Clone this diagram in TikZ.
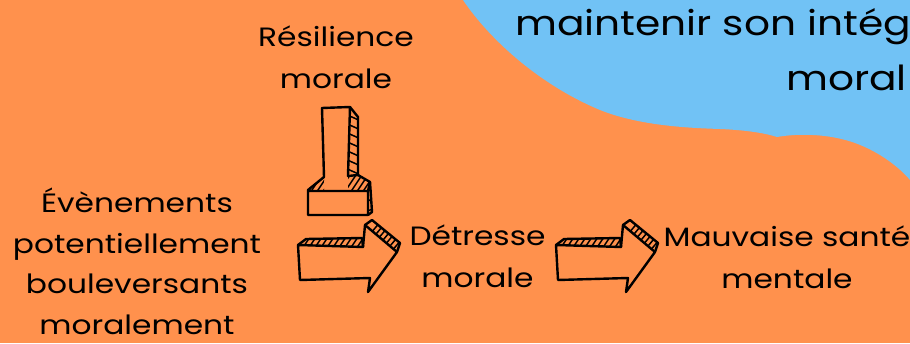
\documentclass[tikz,border=0pt]{standalone}
\usepackage{fontspec}
\setmainfont{Poppins}[FakeStretch=1.18]
\definecolor{bgorange}{RGB}{255,145,77}
\definecolor{blobblue}{RGB}{113,194,245}
\begin{document}
\begin{tikzpicture}[x=1pt,y=-1pt,
  outline/.style={draw=black, line width=2.4pt, line join=round, line cap=round},
  hatchline/.style={draw=black, line width=1.5pt, line cap=round},
  lbl/.style={font=\fontsize{26.5}{42}\selectfont, align=center, anchor=base, inner sep=0pt, text=black},
  ttl/.style={font=\fontsize{34.5}{55}\selectfont, anchor=base west, inner sep=0pt, text=black}]
\useasboundingbox (0,0) rectangle (910,343);
\clip (0,0) rectangle (910,343);
\fill[bgorange] (0,0) rectangle (910,343);
% blue blob
\fill[blobblue] (463,0) .. controls (490,40) and (540,85) .. (600,110)
  .. controls (640,126) and (690,128) .. (720,129)
  .. controls (745,130) and (765,133) .. (777,137)
  .. controls (800,133) and (830,134) .. (855,143)
  .. controls (880,152) and (900,168) .. (910,180) -- (910,0) -- cycle;

% texts (base anchor = baseline of the last line)
\node[ttl] (titleA) at (515,35) {maintenir son intég};
\node[ttl] (titleB) at (786,90) {moral};
\node[lbl] (resil) at (336,88) {Résilience\\morale};
\node[lbl, font=\fontsize{26.5}{40.5}\selectfont] (events) at (137,334) {Évènements\\potentiellement\\bouleversants\\moralement};
\node[lbl] (detresse) at (477.5,287) {Détresse\\morale};
\node[lbl] (sante) at (787,288) {Mauvaise santé\\mentale};

% vertical (downward) block arrow
\begin{scope}
  \clip (350,107)--(358,117)--(358,175)--(348,176)--cycle;
  \foreach \y in {95,104,...,185} \draw[hatchline] (343,\y)--(363,\y+9);
\end{scope}
\begin{scope}
  \clip (308,191)--(324,177)--(324,191)--cycle;
  \foreach \a in {296,302,...,336} \draw[hatchline] (\a,196)--(\a+16,172);
\end{scope}
\begin{scope}
  \clip (348,191)--(348,176)--(358,175)--(370,182)--(368,191)--cycle;
  \foreach \a in {330,336,...,380} \draw[hatchline] (\a,196)--(\a+16,172);
\end{scope}
\begin{scope}
  \clip (368,191)--(371,182)--(372,212)--(368,215)--cycle;
  \foreach \y in {178,188,...,212} \draw[hatchline] (366,\y+4)--(374,\y);
\end{scope}
\draw[outline] (322,108)--(350,107)--(348,176);
\draw[outline] (350,107)--(358,117)--(358,175);
\draw[outline] (322,108)--(324,177)--(308,190)--(308,215)--(368,215)--(368,191)--(308,191);
\draw[outline] (348,176)--(358,175)--(370,182)--(372,212)--(368,215);
\draw[outline] (370,182)--(368,191);

% horizontal block arrows
\foreach \dx/\nm in {0/arrA, 258/arrB} {
\begin{scope}[xshift=\dx]
  \coordinate (\nm) at (348,262);
  \begin{scope}
    \clip (298,245)--(306,239)--(362,238)--(363,247)--cycle;
    \foreach \a in {288,294,...,370} \draw[hatchline] (\a,252)--(\a+12,234);
  \end{scope}
  \begin{scope}
    \clip (365,225)--(372,220)--(400,243)--(397,252)--cycle;
    \foreach \a in {350,356,...,412} \draw[hatchline] (\a,258)--(\a+36,215);
  \end{scope}
  \draw[outline] (298,245)--(363,247)--(365,225)--(397,252)--(368,292)--(370,278)--(300,280)--cycle;
  \draw[outline] (298,245)--(306,239)--(362,238)--(363,247);
  \draw[outline] (365,225)--(372,220)--(400,243)--(397,252);
\end{scope}
}
\end{tikzpicture}
\end{document}
